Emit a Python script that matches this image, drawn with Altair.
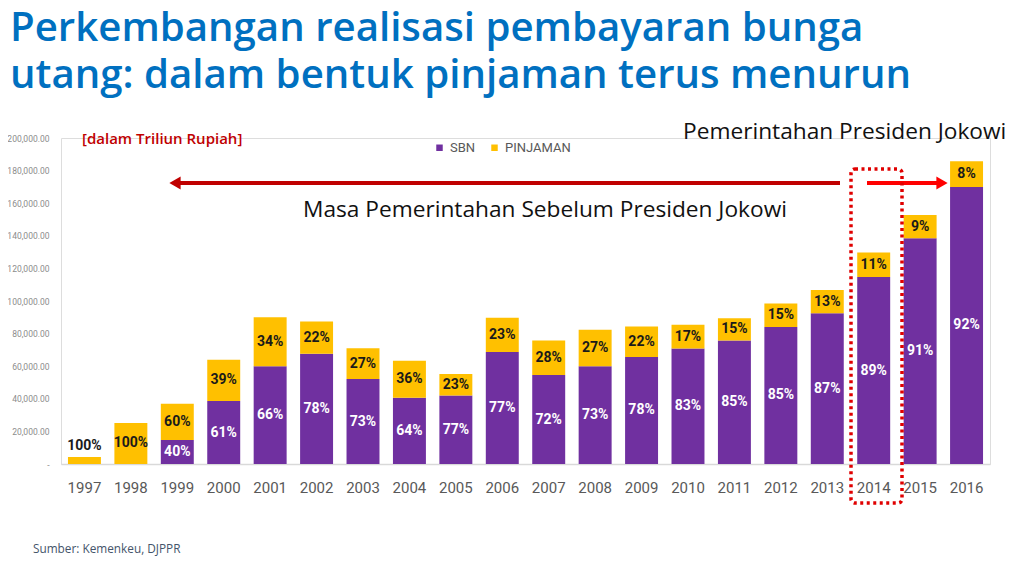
import altair as alt
import pandas as pd

# ---- data ----
years = [str(y) for y in range(1997, 2017)]
sbn = [0, 0, 14800, 38600, 59900, 67700, 52100, 40600, 42000, 68700,
       54600, 59900, 65700, 70800, 75700, 84100, 92500, 114700, 138500, 170000]
pinjaman = [4300, 25200, 22100, 25400, 30100, 19700, 18900, 22800, 13200, 21000,
            21100, 22400, 18600, 14700, 13700, 14400, 14200, 15000, 14300, 15700]
sbn_pct = ["", "", "40%", "61%", "66%", "78%", "73%", "64%", "77%", "77%",
           "72%", "73%", "78%", "83%", "85%", "85%", "87%", "89%", "91%", "92%"]
pinjaman_pct = ["100%", "100%", "60%", "39%", "34%", "22%", "27%", "36%", "23%", "23%",
                "28%", "27%", "22%", "17%", "15%", "15%", "13%", "11%", "9%", "8%"]
series = ["SBN", "PINJAMAN"]
y_ticks = [0, 20000, 40000, 60000, 80000, 100000, 120000, 140000, 160000, 180000, 200000]

rows = []
for i, y in enumerate(years):
    rows.append({"tahun": y, "seri": "SBN", "urut": 0, "nilai": sbn[i],
                 "mid": sbn[i] / 2, "top": sbn[i], "label": sbn_pct[i]})
    rows.append({"tahun": y, "seri": "PINJAMAN", "urut": 1, "nilai": pinjaman[i],
                 "mid": sbn[i] + pinjaman[i] / 2, "top": sbn[i] + pinjaman[i],
                 "label": pinjaman_pct[i]})
df = pd.DataFrame(rows)

PURPLE = "#7030A0"
GOLD = "#FFC000"
NARROW = "Roboto, Liberation Sans, sans-serif"
TITLE_FONT = "Open Sans, Noto Sans, sans-serif"

W, H = 929, 326

xaxis = alt.Axis(labelAngle=0, ticks=False, domain=True, domainColor="#d9d9d9",
                 domainWidth=1.5, labelFont=NARROW, labelFontSize=15,
                 labelColor="#595959", labelPadding=16)
xscale = alt.Scale(paddingInner=0.29, paddingOuter=0.15)
yaxis = alt.Axis(values=y_ticks, grid=False, ticks=False, domain=False,
                 labelFont=NARROW, labelFontSize=8.5, labelColor="#8c8c8c",
                 labelPadding=12, labelOverlap=False,
                 labelExpr="datum.value == 0 ? '-' : format(datum.value, ',.2f')")
yscale = alt.Scale(domain=[0, 200000], nice=False)


def X():
    return alt.X("tahun:N", sort=years, title=None, scale=xscale, axis=xaxis)


def Y(field, **kw):
    return alt.Y(field, title=None, scale=yscale, axis=yaxis, **kw)


base = alt.Chart(df)

bars = base.mark_bar().encode(
    x=X(),
    y=Y("nilai:Q", stack="zero"),
    color=alt.Color("seri:N", scale=alt.Scale(domain=series, range=[PURPLE, GOLD]),
                    legend=alt.Legend(title=None, orient="none", legendX=372, legendY=3,
                                      direction="horizontal", symbolType="square",
                                      symbolSize=42, symbolStrokeWidth=0,
                                      labelFont=NARROW, labelFontSize=13,
                                      labelColor="#595959", columnPadding=12,
                                      labelOffset=4)),
    order=alt.Order("urut:Q"),
)

lbl_sbn = base.transform_filter("datum.seri == 'SBN' && datum.label != ''").mark_text(
    font=NARROW, fontSize=14, fontWeight="bold", color="white", baseline="middle"
).encode(x=X(), y=Y("mid:Q"), text="label:N")

lbl_pin = base.transform_filter("datum.seri == 'PINJAMAN' && datum.nilai >= 8000").mark_text(
    font=NARROW, fontSize=14, fontWeight="bold", color="#1a1a1a", baseline="middle"
).encode(x=X(), y=Y("mid:Q"), text="label:N")

lbl_small = base.transform_filter("datum.seri == 'PINJAMAN' && datum.nilai < 8000").mark_text(
    font=NARROW, fontSize=14, fontWeight="bold", color="#1a1a1a", baseline="bottom", dy=-4
).encode(x=X(), y=Y("top:Q"), text="label:N")


def txt(s, x, y, size, color, font=TITLE_FONT, weight="normal", align="left", baseline="alphabetic"):
    return alt.Chart(pd.DataFrame({"t": [s]})).mark_text(
        font=font, fontSize=size, color=color, fontWeight=weight, align=align, baseline=baseline
    ).encode(x=alt.value(x), y=alt.value(y), text="t:N")


one = pd.DataFrame({"a": [0]})

# arrows and highlight box (annotations)
arrow_left = alt.Chart(one).mark_rule(color="#C00000", strokeWidth=4).encode(
    x=alt.value(116), x2=alt.value(779), y=alt.value(45))
head_left = alt.Chart(one).mark_point(shape="triangle-left", filled=True, color="#C00000",
                                      size=170, opacity=1).encode(x=alt.value(114), y=alt.value(45))
arrow_right = alt.Chart(one).mark_rule(color="#FF0000", strokeWidth=4).encode(
    x=alt.value(806), x2=alt.value(876), y=alt.value(45))
head_right = alt.Chart(one).mark_point(shape="triangle-right", filled=True, color="#FF0000",
                                       size=170, opacity=1).encode(x=alt.value(881), y=alt.value(45))
box = alt.Chart(one).mark_rect(fill=None, stroke="#E00000", strokeWidth=3.5,
                               strokeDash=[3, 3.5], cornerRadius=4).encode(
    x=alt.value(790), x2=alt.value(841), y=alt.value(31), y2=alt.value(365))

t1 = txt("Perkembangan realisasi pembayaran bunga", -51, -97.5, 40.2, "#0070C0", weight=600)
t2 = txt("utang: dalam bentuk pinjaman terus menurun", -51, -50, 40.2, "#0070C0", weight=600)
t3 = txt("[dalam Triliun Rupiah]", 21, 1, 15, "#C00000", weight=600, baseline="middle")
t4 = txt("Pemerintahan Presiden Jokowi", 622, 1, 22.7, "#111111")
t5 = txt("Masa Pemerintahan Sebelum Presiden Jokowi", 242, 72, 22.7, "#111111", baseline="middle")
t6 = txt("Sumber: Kemenkeu, DJPPR", -28, 411, 11.8, "#44546A", baseline="middle")

chart = alt.layer(
    bars, lbl_sbn, lbl_pin, lbl_small,
    arrow_left, head_left, arrow_right, head_right, box,
    t1, t2, t3, t4, t5, t6,
).properties(
    width=W, height=H,
    autosize=alt.AutoSizeParams(type="none"),
    padding={"left": 53, "top": 130, "right": 26, "bottom": 100},
).configure_view(strokeWidth=0, stroke="transparent").configure(background="white")

chart.save("out.html", embed_options={"renderer": "svg", "actions": False})
